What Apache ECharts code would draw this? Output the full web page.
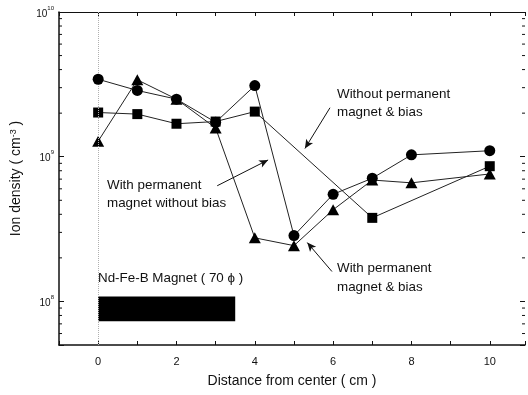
<!DOCTYPE html>
<html>
<head>
<meta charset="utf-8">
<script src="https://cdn.jsdelivr.net/npm/echarts@6/dist/echarts.min.js"></script>
<style>
  html, body { margin: 0; padding: 0; background: #fff; }
  #chart { width: 528px; height: 395px; }
</style>
</head>
<body>
<div id="chart"></div>
<script>
// distance from center (cm)
const xCircle = [0, 1, 2, 3, 4, 5, 6, 7, 8, 10]
const circleVals = [3.43e9, 2.87e9, 2.5e9, 1.73e9, 3.1e9, 2.85e8, 5.5e8, 7.1e8, 1.03e9, 1.1e9]
const xSquare = [0, 1, 2, 3, 4, 7, 10]
const squareVals = [2.02e9, 1.97e9, 1.69e9, 1.75e9, 2.05e9, 3.78e8, 8.6e8]
const xTriangle = [0, 1, 2, 3, 4, 5, 6, 7, 8, 10]
const triangleVals = [1.28e9, 3.4e9, 2.5e9, 1.58e9, 2.75e8, 2.43e8, 4.3e8, 6.9e8, 6.6e8, 7.6e8]

// y minor ticks (log axis)
const minorTicks = [6e7, 7e7, 8e7, 9e7, 2e8, 3e8, 4e8, 5e8, 6e8, 7e8, 8e8, 9e8,
  2e9, 3e9, 4e9, 5e9, 6e9, 7e9, 8e9, 9e9]

// magnet bar: x from 0 to 3.5 cm
const magnetX = [0, 3.5]
const magnetY = [1.08e8, 7.3e7]

// annotation arrows [from, to] in data coords
const arrows = [
  [[5.92, 2.18e9], [5.28, 1.14e9]],
  [[3.04, 6.3e8], [4.34, 9.5e8]],
  [[5.97, 1.61e8], [5.34, 2.55e8]]
]

const X_MIN = -1
const X_MAX = 10.9
const FONT = 'Liberation Sans, Arial, sans-serif'

const pair = (xs, ys) => xs.map((x, i) => [x, ys[i]])

const chart = echarts.init(document.getElementById('chart'))

const lineStyle = { color: '#222', width: 1 }

chart.setOption({
  animation: false,
  textStyle: { fontFamily: FONT },
  grid: { left: 59, top: 12, right: 3, bottom: 50 },
  xAxis: [{
    type: 'value', min: X_MIN, max: X_MAX, interval: 1,
    name: 'Distance from center ( cm )', nameLocation: 'middle', nameGap: 29,
    nameTextStyle: { fontSize: 14, color: '#111', fontFamily: FONT },
    axisLine: { onZero: false, lineStyle: { color: '#111', width: 1.5 } },
    axisTick: { inside: true, length: 4, lineStyle: { color: '#111' } },
    axisLabel: {
      margin: 11, fontSize: 11, color: '#111', fontFamily: FONT,
      formatter: v => (v >= 0 && v % 2 === 0 && v <= 10) ? String(v) : ''
    },
    splitLine: { show: false }
  }, {
    type: 'value', position: 'top', min: X_MIN, max: X_MAX, interval: 1,
    axisLine: { onZero: false, lineStyle: { color: '#111', width: 1.2 } },
    axisTick: { inside: true, length: 4, lineStyle: { color: '#111' } },
    axisLabel: { show: false },
    splitLine: { show: false }
  }],
  yAxis: [{
    type: 'log', logBase: 10, min: 5e7, max: 1e10,
    name: 'Ion density ( cm{s|-3} )', nameLocation: 'middle', nameGap: 36,
    nameRotate: 90,
    nameTextStyle: {
      fontSize: 14, color: '#111', fontFamily: FONT,
      rich: { s: { fontSize: 9, verticalAlign: 'top', color: '#111', fontFamily: FONT } }
    },
    axisLine: { show: true, onZero: false, lineStyle: { color: '#111', width: 1.5 } },
    axisTick: { inside: true, length: 5, lineStyle: { color: '#111' } },
    axisLabel: {
      margin: 5, color: '#111', fontFamily: FONT, fontSize: 10,
      formatter: v => {
        const e = Math.round(Math.log10(v))
        if (Math.abs(Math.log10(v) - e) > 1e-6) return ''
        return '{b|10}{s|' + e + '}'
      },
      rich: {
        b: { fontSize: 10, lineHeight: 14, verticalAlign: 'bottom', color: '#111', fontFamily: FONT },
        s: { fontSize: 6, verticalAlign: 'top', color: '#111', fontFamily: FONT }
      }
    },
    splitLine: { show: false }
  }, {
    type: 'log', logBase: 10, min: 5e7, max: 1e10, position: 'right',
    axisLine: { show: false, onZero: false },
    axisTick: { inside: true, length: 5, lineStyle: { color: '#111' } },
    axisLabel: { show: false },
    splitLine: { show: false }
  }],
  graphic: [
    { type: 'text', left: 337, top: 85, style: { text: 'Without permanent\nmagnet & bias', font: '13.4px ' + FONT, fill: '#111', lineHeight: 18 } },
    { type: 'text', left: 107, top: 176, style: { text: 'With permanent\nmagnet without bias', font: '13.4px ' + FONT, fill: '#111', lineHeight: 18 } },
    { type: 'text', left: 337, top: 259, style: { text: 'With permanent\nmagnet & bias', font: '13.4px ' + FONT, fill: '#111', lineHeight: 19 } },
    { type: 'text', left: 98, top: 272, style: { text: 'Nd-Fe-B Magnet ( 70 \u03d5 )', font: '13.4px ' + FONT, fill: '#111' } }
  ],
  series: [
    {
      type: 'custom', silent: true, clip: false, z: 1,
      data: minorTicks.map(v => [X_MIN, v]),
      renderItem: (params, api) => {
        const v = api.value(1)
        const l = api.coord([X_MIN, v])
        const r = api.coord([X_MAX, v])
        return {
          type: 'group',
          children: [
            { type: 'line', shape: { x1: l[0], y1: l[1], x2: l[0] + 3, y2: l[1] }, style: { stroke: '#111', lineWidth: 1 } },
            { type: 'line', shape: { x1: r[0], y1: r[1], x2: r[0] - 3, y2: r[1] }, style: { stroke: '#111', lineWidth: 1 } }
          ]
        }
      }
    },
    {
      // with permanent magnet & bias
      name: 'triangle', type: 'line', data: pair(xTriangle, triangleVals),
      symbol: 'triangle', symbolSize: [12, 11],
      itemStyle: { color: '#000' }, lineStyle: lineStyle, z: 3,
      markLine: {
        silent: true, symbol: ['none', 'none'],
        lineStyle: { color: '#b0b0b0', type: 'dotted', width: 1 },
        label: { show: false },
        emphasis: { disabled: true },
        data: [{ xAxis: 0 }]
      },
      markArea: {
        silent: true,
        itemStyle: { color: '#000' },
        data: [[{ coord: [magnetX[0], magnetY[0]] }, { coord: [magnetX[1], magnetY[1]] }]]
      }
    },
    {
      // without permanent magnet & bias
      name: 'square', type: 'line', data: pair(xSquare, squareVals),
      symbol: 'rect', symbolSize: 10,
      itemStyle: { color: '#000' }, lineStyle: lineStyle, z: 4,
      markLine: {
        silent: true, symbol: ['none', 'arrow'], symbolSize: [6, 9],
        lineStyle: { color: '#111', type: 'solid', width: 1 },
        label: { show: false },
        data: arrows.map(a => [{ coord: a[0] }, { coord: a[1] }])
      }
    },
    {
      // with permanent magnet without bias
      name: 'circle', type: 'line', data: pair(xCircle, circleVals),
      symbol: 'circle', symbolSize: 11,
      itemStyle: { color: '#000' }, lineStyle: lineStyle, z: 5
    }
  ]
})
</script>
</body>
</html>
